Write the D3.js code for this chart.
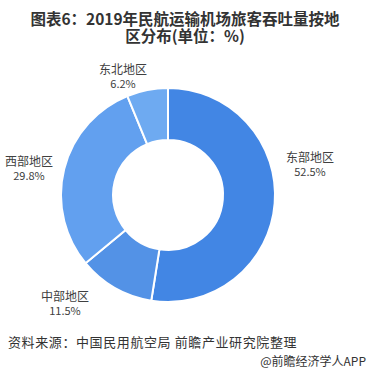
<!DOCTYPE html>
<html>
<head>
<meta charset="utf-8">
<script src="https://cdn.jsdelivr.net/npm/d3@7"></script>
<style>
  body { margin: 0; background: #fff; }
  svg text { font-family: "Noto Sans CJK SC", "Noto Sans", sans-serif; }
</style>
</head>
<body>
<div id="chart"></div>
<script>
// data
var REGIONS = ["东部地区", "中部地区", "西部地区", "东北地区"],
    SHARES = [52.5, 11.5, 29.8, 6.2],
    COLORS = ["#4286e4", "#5392e6", "#62a0ef", "#6eaaf1"],
    // label anchor spots (x, y of the first line)
    LABEL_POS = [[310, 162], [65, 301], [29, 166], [123, 74]];

var width = 370, height = 376;
var cx = 168, cy = 195, outerR = 107, innerR = 55;

var svg = d3.select("#chart")
    .append("svg")
    .attr("width", width)
    .attr("height", height);

// title
var title = svg.append("text")
    .attr("text-anchor", "middle")
    .attr("fill", "#333")
    .style("font-size", "15.5px")
    .style("font-weight", "bold");
title.append("tspan").attr("x", 185).attr("y", 25).text("图表6：2019年民航运输机场旅客吞吐量按地");
title.append("tspan").attr("x", 185).attr("y", 42).text("区分布(单位：%)");

var pie = d3.pie()
    .sort(null)
    .value(function (d) { return d; });

var arc = d3.arc()
    .innerRadius(innerR)
    .outerRadius(outerR);

var g = svg.append("g")
    .attr("transform", "translate(" + cx + "," + cy + ")");

g.selectAll("path")
    .data(pie(SHARES))
    .enter()
    .append("path")
    .attr("d", arc)
    .attr("fill", function (d, i) { return COLORS[i]; })
    .attr("stroke", "#fff")
    .attr("stroke-width", 2);

// labels
var labels = svg.selectAll(".label")
    .data(REGIONS)
    .enter()
    .append("text")
    .attr("class", "label")
    .attr("text-anchor", "middle")
    .attr("fill", "#404040")
    .style("font-size", "12px");

labels.append("tspan")
    .attr("x", function (d, i) { return LABEL_POS[i][0]; })
    .attr("y", function (d, i) { return LABEL_POS[i][1]; })
    .text(function (d) { return d; });

labels.append("tspan")
    .attr("x", function (d, i) { return LABEL_POS[i][0]; })
    .attr("y", function (d, i) { return LABEL_POS[i][1] + 14; })
    .style("font-size", "11px")
    .text(function (d, i) { return SHARES[i].toFixed(1) + "%"; });

// source
svg.append("text")
    .attr("x", 8)
    .attr("y", 347)
    .attr("fill", "#333")
    .style("font-size", "13px")
    .style("letter-spacing", "0.6px")
    .text("资料来源：中国民用航空局 前瞻产业研究院整理");

svg.append("text")
    .attr("x", 366)
    .attr("y", 366)
    .attr("text-anchor", "end")
    .attr("fill", "#333")
    .style("font-size", "12px")
    .text("@前瞻经济学人APP");
</script>
</body>
</html>
